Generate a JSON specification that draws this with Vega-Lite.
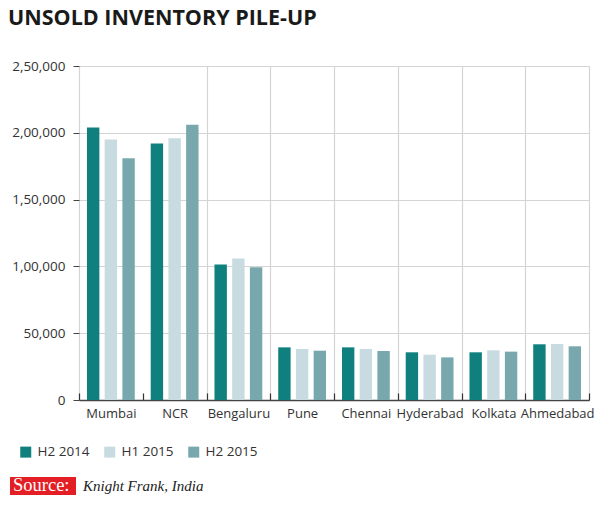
{
  "$schema": "https://vega.github.io/schema/vega-lite/v6.json",
  "autosize": "none",
  "width": 510,
  "height": 334,
  "padding": {"left": 79, "top": 66, "right": 11, "bottom": 105},
  "background": "white",
  "title": {
    "text": "UNSOLD INVENTORY PILE-UP",
    "anchor": "start",
    "frame": "group",
    "dx": -71,
    "dy": -10,
    "offset": 20,
    "font": "Open Sans",
    "fontWeight": "bold",
    "fontSize": 21.5,
    "color": "#1a1a1a"
  },
  "config": {
    "view": {"stroke": null},
    "font": "Open Sans"
  },
  "layer": [
    {
      "data": {
        "values": [
          {"city": "Mumbai", "period": "H2 2014", "value": 204000},
          {"city": "Mumbai", "period": "H1 2015", "value": 195000},
          {"city": "Mumbai", "period": "H2 2015", "value": 181000},
          {"city": "NCR", "period": "H2 2014", "value": 192000},
          {"city": "NCR", "period": "H1 2015", "value": 196000},
          {"city": "NCR", "period": "H2 2015", "value": 206000},
          {"city": "Bengaluru", "period": "H2 2014", "value": 101500},
          {"city": "Bengaluru", "period": "H1 2015", "value": 106000},
          {"city": "Bengaluru", "period": "H2 2015", "value": 99300},
          {"city": "Pune", "period": "H2 2014", "value": 39400},
          {"city": "Pune", "period": "H1 2015", "value": 38200},
          {"city": "Pune", "period": "H2 2015", "value": 36900},
          {"city": "Chennai", "period": "H2 2014", "value": 39400},
          {"city": "Chennai", "period": "H1 2015", "value": 38200},
          {"city": "Chennai", "period": "H2 2015", "value": 36700},
          {"city": "Hyderabad", "period": "H2 2014", "value": 35700},
          {"city": "Hyderabad", "period": "H1 2015", "value": 33900},
          {"city": "Hyderabad", "period": "H2 2015", "value": 31900},
          {"city": "Kolkata", "period": "H2 2014", "value": 35700},
          {"city": "Kolkata", "period": "H1 2015", "value": 37200},
          {"city": "Kolkata", "period": "H2 2015", "value": 36200},
          {"city": "Ahmedabad", "period": "H2 2014", "value": 41700},
          {"city": "Ahmedabad", "period": "H1 2015", "value": 41900},
          {"city": "Ahmedabad", "period": "H2 2015", "value": 40200}
        ]
      },
      "mark": {"type": "bar", "strokeWidth": 0},
      "encoding": {
        "x": {
          "field": "city",
          "type": "nominal",
          "sort": null,
          "scale": {"paddingInner": 0, "paddingOuter": 0},
          "axis": {
            "title": null,
            "labelAngle": 0,
            "labelFontSize": 13,
            "labelColor": "#333333",
            "labelPadding": 14,
            "tickBand": "extent",
            "tickSize": -7,
            "tickColor": "#333333",
            "tickWidth": 1.2,
            "domainColor": "#444444",
            "domainWidth": 1.5,
            "grid": true,
            "gridColor": "#d4d4d4",
            "gridWidth": 1.2,
            "gridOpacity": {"condition": {"test": "datum.value == 'Mumbai' && datum.index == 0", "value": 0}, "value": 1}
          }
        },
        "xOffset": {
          "field": "period",
          "type": "nominal",
          "sort": ["H2 2014", "H1 2015", "H2 2015"],
          "scale": {"paddingInner": 0.3, "paddingOuter": 0.45}
        },
        "y": {
          "field": "value",
          "type": "quantitative",
          "scale": {"domain": [0, 250000], "nice": false},
          "axis": {
            "title": null,
            "values": [0, 50000, 100000, 150000, 200000, 250000],
            "labelExpr": "datum.value == 0 ? '0' : datum.value == 50000 ? '50,000' : datum.value == 100000 ? '1,00,000' : datum.value == 150000 ? '1,50,000' : datum.value == 200000 ? '2,00,000' : '2,50,000'",
            "labelFontSize": 13.5,
            "labelColor": "#333333",
            "labelPadding": 8,
            "domain": false,
            "tickSize": 6,
            "tickColor": "#444444",
            "tickWidth": 1,
            "grid": true,
            "gridColor": "#d4d4d4",
            "gridWidth": 1.2
          }
        },
        "color": {
          "field": "period",
          "type": "nominal",
          "sort": ["H2 2014", "H1 2015", "H2 2015"],
          "scale": {
            "domain": ["H2 2014", "H1 2015", "H2 2015"],
            "range": ["#0f807e", "#c8dbe0", "#78a8ad"]
          },
          "legend": {
            "title": null,
            "orient": "none",
            "legendX": -60,
            "legendY": 379,
            "direction": "horizontal",
            "symbolType": "square",
            "symbolSize": 121,
            "symbolStrokeWidth": 0,
            "labelFontSize": 13.5,
            "labelColor": "#333333",
            "labelOffset": 5,
            "columnPadding": 13
          }
        }
      }
    },
    {
      "data": {"values": [{"label": "Source:"}]},
      "mark": {"type": "rect", "color": "#e31e24"},
      "encoding": {
        "x": {"value": -69},
        "x2": {"value": -3},
        "y": {"value": 411},
        "y2": {"value": 429}
      }
    },
    {
      "data": {"values": [{"label": "Source:"}]},
      "mark": {"type": "text", "font": "Liberation Serif", "fontSize": 18.5, "color": "white", "align": "left", "baseline": "alphabetic"},
      "encoding": {
        "text": {"field": "label"},
        "x": {"value": -66},
        "y": {"value": 425}
      }
    },
    {
      "data": {"values": [{"label": "Knight Frank, India"}]},
      "mark": {"type": "text", "font": "Liberation Serif", "fontSize": 15, "fontStyle": "italic", "color": "#222222", "align": "left", "baseline": "alphabetic"},
      "encoding": {
        "text": {"field": "label"},
        "x": {"value": 4},
        "y": {"value": 425}
      }
    }
  ]
}
